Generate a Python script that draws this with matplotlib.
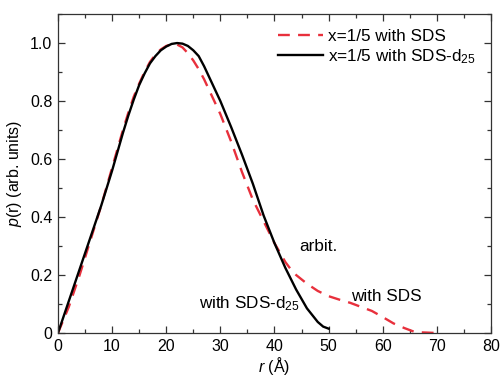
import matplotlib
matplotlib.use("Agg")
import matplotlib.pyplot as plt
from matplotlib.ticker import MultipleLocator, FixedFormatter, FixedLocator

plt.rcParams["font.family"] = ["Liberation Sans", "DejaVu Sans"]
plt.rcParams["mathtext.fontset"] = "custom"
plt.rcParams["mathtext.rm"] = "Liberation Sans"
plt.rcParams["mathtext.it"] = "Liberation Sans:italic"

# p(r) curves
r_d25 = [0, 2, 4, 6, 8, 10, 11, 12, 13, 14, 15, 16, 17, 18, 19, 20, 21, 22,
         23, 24, 25, 26, 27, 28, 30, 32, 34, 36, 38, 40, 42, 44, 46, 48, 49,
         50]
p_d25 = [0, 0.11, 0.22, 0.33, 0.44, 0.56, 0.625, 0.69, 0.75, 0.805, 0.855,
         0.895, 0.93, 0.955, 0.975, 0.988, 0.997, 1.0, 0.998, 0.99, 0.975,
         0.955, 0.92, 0.88, 0.80, 0.71, 0.615, 0.515, 0.405, 0.31, 0.225,
         0.15, 0.085, 0.038, 0.022, 0.015]

r_sds = [0, 2, 4, 6, 8, 10, 12, 13, 14, 15, 16, 17, 18, 19, 20, 21, 22, 23,
         24, 25, 26, 27, 28, 30, 32, 34, 36, 38, 40, 42, 43, 44, 46, 48, 50,
         52, 54, 56, 58, 60, 62, 64, 66, 70]
p_sds = [0, 0.09, 0.20, 0.32, 0.44, 0.57, 0.70, 0.76, 0.815, 0.86, 0.90,
         0.935, 0.96, 0.978, 0.99, 0.996, 0.995, 0.985, 0.965, 0.94, 0.91,
         0.875, 0.835, 0.755, 0.66, 0.555, 0.46, 0.385, 0.31, 0.245, 0.22,
         0.20, 0.17, 0.145, 0.127, 0.115, 0.104, 0.09, 0.076, 0.055, 0.033,
         0.017, 0.003, 0.0]

x_ticks = [0, 10, 20, 30, 40, 50, 60, 70, 80]
y_ticks = [0, 0.2, 0.4, 0.6, 0.8, 1.0]
y_labels = ["0", "0.2", "0.4", "0.6", "0.8", "1.0"]

fig = plt.figure(figsize=(5.02, 3.80), dpi=100)
ax = fig.add_axes([0.1155, 0.1237, 0.8625, 0.8393])

ax.plot(r_sds, p_sds, color="#e8303c", lw=1.7, dashes=(5, 3.5),
        label="x=1/5 with SDS")
ax.plot(r_d25, p_d25, color="black", lw=1.7,
        label="x=1/5 with SDS-d$_{25}$")

ax.set_xlim(0, 80)
ax.set_ylim(0, 1.1)
ax.xaxis.set_major_locator(FixedLocator(x_ticks))
ax.xaxis.set_minor_locator(MultipleLocator(5))
ax.yaxis.set_major_locator(FixedLocator(y_ticks))
ax.yaxis.set_major_formatter(FixedFormatter(y_labels))
ax.yaxis.set_minor_locator(MultipleLocator(0.1))
ax.tick_params(which="both", direction="in", top=True, right=True,
               labelsize=11.5, color="#333333")
ax.tick_params(which="major", length=5, width=0.9, pad=4)
ax.tick_params(which="minor", length=3, width=0.9)
for s in ax.spines.values():
    s.set_linewidth(0.9)
    s.set_color("#333333")

ax.set_xlabel("$r$ (Å)", fontsize=11.5, labelpad=1)
ax.set_ylabel("$p$(r) (arb. units)", fontsize=11.5, labelpad=4)

ax.text(44.6, 0.297, "arbit.", fontsize=12.3, va="center")
ax.text(54.2, 0.125, "with SDS", fontsize=12.3, va="center")
ax.text(26.0, 0.10, "with SDS-d$_{25}$", fontsize=12.3, va="center")

ax.legend(loc="upper right", frameon=False, fontsize=12.3, handlelength=2.6,
          handletextpad=0.3, borderaxespad=0.5, labelspacing=0.15)

fig.savefig("out.png", dpi=100)
